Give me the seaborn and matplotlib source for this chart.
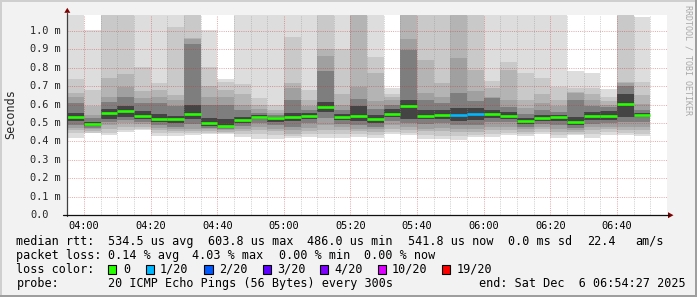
import matplotlib
matplotlib.use("Agg")
import matplotlib.pyplot as plt
import matplotlib.dates as mdates
from matplotlib.patches import Rectangle, Polygon
from matplotlib.lines import Line2D
import matplotlib.transforms as mtransforms
import numpy as np
import pandas as pd
import seaborn as sns

sns.set_theme(style="white")
plt.rcParams['font.family'] = ['DejaVu Sans Mono', 'DejaVu Sans']

# ---------------- data (milliseconds) ----------------
bar_start = pd.date_range("2025-12-06 03:55", periods=35, freq="5min")

median_ms = [0.531, 0.496, 0.553, 0.565, 0.538, 0.524, 0.520, 0.549, 0.498, 0.486,
             0.516, 0.534, 0.525, 0.534, 0.540, 0.585, 0.534, 0.538, 0.520, 0.547,
             0.591, 0.540, 0.543, 0.545, 0.551, 0.549, 0.540, 0.511, 0.525, 0.531,
             0.505, 0.540, 0.540, 0.604, 0.542]
loss_20 = [0] * 23 + [1, 1] + [0] * 10

# smoke bands, outermost (lightest) to innermost (darkest): upper and lower edges
top1 = [1.3, 1.005, 1.3, 1.3, 1.3, 1.3, 1.3, 1.3, 1.005, 0.739, 1.3, 1.3, 1.3, 1.3, 1.3, 1.3, 1.3, 1.3,
        1.3, 0.688, 1.3, 1.3, 1.3, 1.3, 1.3, 1.3, 1.3, 1.3, 1.3, 1.3, 0.784, 0.774, 0.687, 1.3, 1.078]
top2 = [0.739, 0.677, 1.2, 1.2, 0.803, 0.719, 1.024, 1.2, 0.803, 0.725, 0.712, 0.634, 0.598, 0.969,
        0.679, 1.2, 0.9, 1.2, 0.86, 0.656, 1.2, 1.2, 1.2, 1.2, 1.2, 0.728, 0.833, 0.77, 0.743, 0.697,
        0.688, 0.688, 0.643, 1.2, 0.725]
top3 = [0.661, 0.59, 0.743, 0.766, 0.676, 0.679, 0.652, 0.96, 0.70, 0.68, 0.66, 0.6, 0.57, 0.716,
        0.625, 0.9, 0.66, 1.2, 0.77, 0.643, 1.2, 0.842, 0.719, 1.2, 0.788, 0.69, 0.788, 0.625, 0.66,
        0.625, 0.67, 0.66, 0.62, 0.725, 0.652]
top4 = [0.64, 0.545, 0.643, 0.694, 0.634, 0.643, 0.625, 0.955, 0.64, 0.64, 0.6, 0.575, 0.555, 0.69,
        0.59, 0.864, 0.6, 0.697, 0.62, 0.625, 0.957, 0.661, 0.643, 0.851, 0.676, 0.643, 0.625, 0.58,
        0.607, 0.59, 0.665, 0.625, 0.6, 0.715, 0.605]
top5 = [0.607, 0.525, 0.616, 0.643, 0.61, 0.61, 0.59, 0.93, 0.6, 0.6, 0.57, 0.555, 0.545, 0.625,
        0.57, 0.783, 0.57, 0.63, 0.575, 0.6, 0.897, 0.625, 0.61, 0.661, 0.621, 0.635, 0.585, 0.55,
        0.57, 0.56, 0.625, 0.59, 0.585, 0.70, 0.57]
top6 = [0.555, 0.508, 0.575, 0.592, 0.565, 0.55, 0.54, 0.6, 0.525, 0.52, 0.53, 0.545, 0.535, 0.555,
        0.555, 0.615, 0.55, 0.59, 0.545, 0.575, 0.625, 0.57, 0.57, 0.58, 0.58, 0.57, 0.56, 0.525,
        0.545, 0.545, 0.53, 0.56, 0.565, 0.655, 0.555]
bot6 = [0.51, 0.485, 0.52, 0.535, 0.52, 0.505, 0.5, 0.52, 0.485, 0.478, 0.5, 0.52, 0.505, 0.51,
        0.52, 0.56, 0.515, 0.51, 0.5, 0.53, 0.52, 0.52, 0.52, 0.51, 0.515, 0.525, 0.52, 0.495, 0.51,
        0.51, 0.49, 0.515, 0.515, 0.535, 0.53]
bot5 = [0.49, 0.475, 0.505, 0.515, 0.505, 0.49, 0.48, 0.495, 0.475, 0.47, 0.485, 0.5, 0.49, 0.48,
        0.5, 0.525, 0.495, 0.49, 0.48, 0.51, 0.5, 0.495, 0.5, 0.49, 0.49, 0.505, 0.505, 0.48, 0.495,
        0.49, 0.475, 0.495, 0.5, 0.507, 0.505]
bot4 = [0.475, 0.465, 0.49, 0.5, 0.495, 0.475, 0.465, 0.47, 0.465, 0.46, 0.47, 0.48, 0.47, 0.46,
        0.475, 0.49, 0.48, 0.47, 0.465, 0.49, 0.48, 0.47, 0.475, 0.47, 0.47, 0.48, 0.48, 0.465, 0.48,
        0.47, 0.46, 0.48, 0.48, 0.48, 0.48]
bot3 = [0.46, 0.455, 0.465, 0.48, 0.48, 0.46, 0.455, 0.455, 0.455, 0.45, 0.455, 0.46, 0.455, 0.44,
        0.455, 0.46, 0.46, 0.455, 0.45, 0.47, 0.46, 0.455, 0.455, 0.45, 0.45, 0.46, 0.46, 0.45, 0.465,
        0.45, 0.45, 0.46, 0.465, 0.46, 0.46]
bot2 = [0.445, 0.448, 0.448, 0.462, 0.47, 0.447, 0.443, 0.445, 0.447, 0.445, 0.44, 0.44, 0.435, 0.43,
        0.44, 0.44, 0.44, 0.44, 0.435, 0.45, 0.445, 0.435, 0.43, 0.43, 0.435, 0.44, 0.445, 0.44, 0.45,
        0.435, 0.44, 0.44, 0.45, 0.445, 0.44]
bot1 = [0.42, 0.443, 0.435, 0.453, 0.462, 0.432, 0.43, 0.435, 0.442, 0.44, 0.423, 0.415, 0.415, 0.418,
        0.422, 0.418, 0.42, 0.426, 0.418, 0.44, 0.435, 0.414, 0.412, 0.41, 0.425, 0.425, 0.435, 0.43,
        0.44, 0.418, 0.433, 0.418, 0.435, 0.435, 0.428]

y_ticks = [0.0, 0.1, 0.2, 0.3, 0.4, 0.5, 0.6, 0.7, 0.8, 0.9, 1.0]
y_tick_labels = ["0.0", "0.1 m", "0.2 m", "0.3 m", "0.4 m", "0.5 m", "0.6 m", "0.7 m",
                 "0.8 m", "0.9 m", "1.0 m"]

loss_levels = ["0", "1/20", "2/20", "3/20", "4/20", "10/20", "19/20"]
loss_counts = [0, 1, 2, 3, 4, 10, 19]
loss_colors = ["#26ff00", "#00b8ff", "#0059ff", "#5e00ff", "#7e00ff", "#dd00ff", "#ff0000"]

# ---------------- figure ----------------
W, H = 697, 297
BG = "#f2f2f2"
fig = plt.figure(figsize=(W / 100, H / 100), dpi=100, facecolor=BG)


def fx(x):
    return x / W


def fy(y):
    return 1 - y / H


PL, PR, PT, PB = 67.3, 667.0, 15.0, 215.0
ax = fig.add_axes([fx(PL), fy(PB), (PR - PL) / W, (PB - PT) / H])
ax.set_facecolor("white")

xs = mdates.date2num(bar_start)
width = 5 / 1440.0
band_colors = ["#dddddd", "#c9c9c9", "#b4b4b4", "#a0a0a0", "#7e7e7e", "#444444"]
tops = [top1, top2, top3, top4, top5, top6]
bots = [bot1, bot2, bot3, bot4, bot5, bot6]
for t, b, c in zip(tops, bots, band_colors):
    t = np.asarray(t)
    b = np.asarray(b)
    ax.bar(xs, t - b, bottom=b, width=width, align="edge", color=c,
           linewidth=0, zorder=1, antialiased=False)

# median segments, coloured by loss
step = pd.Timedelta(minutes=5)
rows = []
for i, (s, m, l) in enumerate(zip(bar_start, median_ms, loss_20)):
    rows.append(dict(bar=i, time=s, rtt=m, loss=l))
    rows.append(dict(bar=i, time=s + step, rtt=m, loss=l))
med_df = pd.DataFrame(rows)
pal = {k: c for k, c in zip(loss_counts, loss_colors) if k in set(loss_20)}
sns.lineplot(data=med_df, x="time", y="rtt", units="bar", estimator=None, hue="loss",
             palette=pal, linewidth=1.9, legend=False, ax=ax, zorder=3,
             solid_capstyle="butt", sort=False)
ax.set_xlabel("")
ax.set_ylabel("")

t0 = pd.Timestamp("2025-12-06 03:55")
ax.set_xlim(mdates.date2num(t0), mdates.date2num(t0 + pd.Timedelta(minutes=180)))
ax.set_ylim(0, (PB - PT) / 184.0)

major = pd.date_range("2025-12-06 04:00", "2025-12-06 06:40", freq="20min")
minor = [t for t in pd.date_range("2025-12-06 04:05", "2025-12-06 06:50", freq="5min")
         if t not in set(major)]
ax.set_xticks(mdates.date2num(major))
ax.set_xticklabels([t.strftime("%H:%M") for t in major])
ax.set_xticks(mdates.date2num(minor), minor=True)
ax.set_yticks(y_ticks)
ax.set_yticklabels([])

for sp in ax.spines.values():
    sp.set_visible(False)

ax.set_axisbelow(False)
ax.grid(which="major", axis="both", color="#d03030", alpha=0.42, linewidth=0.72,
        linestyle=(0, (1, 1.2)), antialiased=True)
ax.grid(which="minor", axis="x", color="#8c8c8c", alpha=0.42, linewidth=0.72,
        linestyle=(0, (1, 1.2)), antialiased=True)

ax.tick_params(axis="both", which="major", length=2.2, width=0.72, color="#303030",
               direction="out", labelsize=7.4, pad=2.0, labelcolor="black")
ax.tick_params(axis="both", which="minor", length=0)

# y tick labels, left aligned like rrdtool
tr = mtransforms.blended_transform_factory(fig.transFigure, ax.transData)
for v, lab in zip(y_ticks, y_tick_labels):
    fig.text(fx(30.0), v, lab, transform=tr, ha="left", va="center", fontsize=7.4)

# axis lines and arrows
fig.add_artist(Line2D([fx(PL), fx(PL)], [fy(PB + 1), fy(12.5)], color="#404040", lw=0.9))
fig.add_artist(Line2D([fx(63), fx(668.5)], [fy(PB), fy(PB)], color="#101010", lw=0.9))
fig.add_artist(Polygon([[fx(64.3), fy(12.8)], [fx(70.3), fy(12.8)], [fx(67.3), fy(7.8)]],
                       closed=True, transform=fig.transFigure, color="#7f0000", lw=0))
fig.add_artist(Polygon([[fx(668), fy(212.2)], [fx(668), fy(218.2)], [fx(673.5), fy(215.2)]],
                       closed=True, transform=fig.transFigure, color="#7f0000", lw=0))

# labels
LF = 8.45
fig.text(fx(11), fy(114), "Seconds", rotation=90, ha="center", va="center", fontsize=LF)
fig.text(fx(688), fy(60), "RRDTOOL / TOBI OETIKER", rotation=270, ha="center", va="center",
         fontsize=6.0, color="#a8a8a8")

r1, r2, r3, r4 = 244.8, 258.8, 273.0, 287.3
def lt(x, y, s):
    fig.text(fx(x), fy(y), s, ha="left", va="baseline", fontsize=LF, color="black")

lt(16.4, r1, "median rtt:")
for x, s in [(107.6, "534.5 us avg"), (207.6, "603.8 us max"), (306.7, "486.0 us min"),
             (407.6, "541.8 us now"), (507.6, "0.0 ms sd"), (587.6, "22.4"), (635.6, "am/s")]:
    lt(x, r1, s)
lt(16.4, r2, "packet loss:")
for x, s in [(107.6, "0.14 % avg"), (192.4, "4.03 % max"), (279.0, "0.00 % min"),
             (364.0, "0.00 % now")]:
    lt(x, r2, s)
lt(16.4, r3, "loss color:")
box_x = [108.0, 145.8, 204.4, 263.0, 320.0, 377.8, 442.0]
lab_x = [123.6, 160.0, 218.7, 277.0, 334.0, 392.0, 457.0]
for bx, lx, lab, col in zip(box_x, lab_x, loss_levels, loss_colors):
    fig.add_artist(Rectangle((fx(bx), fy(274.0)), 8.4 / W, 8.8 / H, transform=fig.transFigure,
                             facecolor=col, edgecolor="black", lw=0.8))
    lt(lx, r3, lab)
lt(16.4, r4, "probe:")
lt(107.6, r4, "20 ICMP Echo Pings (56 Bytes) every 300s")
lt(478.7, r4, "end: Sat Dec  6 06:54:27 2025")

# 3D frame of the canvas
fig.add_artist(Rectangle((0, fy(2)), 1, 2 / H, transform=fig.transFigure, color="#cfcfcf", lw=0))
fig.add_artist(Rectangle((0, 0), 2 / W, 1, transform=fig.transFigure, color="#cfcfcf", lw=0))
fig.add_artist(Rectangle((0, 0), 1, 2 / H, transform=fig.transFigure, color="#9e9e9e", lw=0))
fig.add_artist(Rectangle((fx(695), 0), 2 / W, 1, transform=fig.transFigure, color="#9e9e9e", lw=0))

fig.savefig("out.png", dpi=100, facecolor=BG)
